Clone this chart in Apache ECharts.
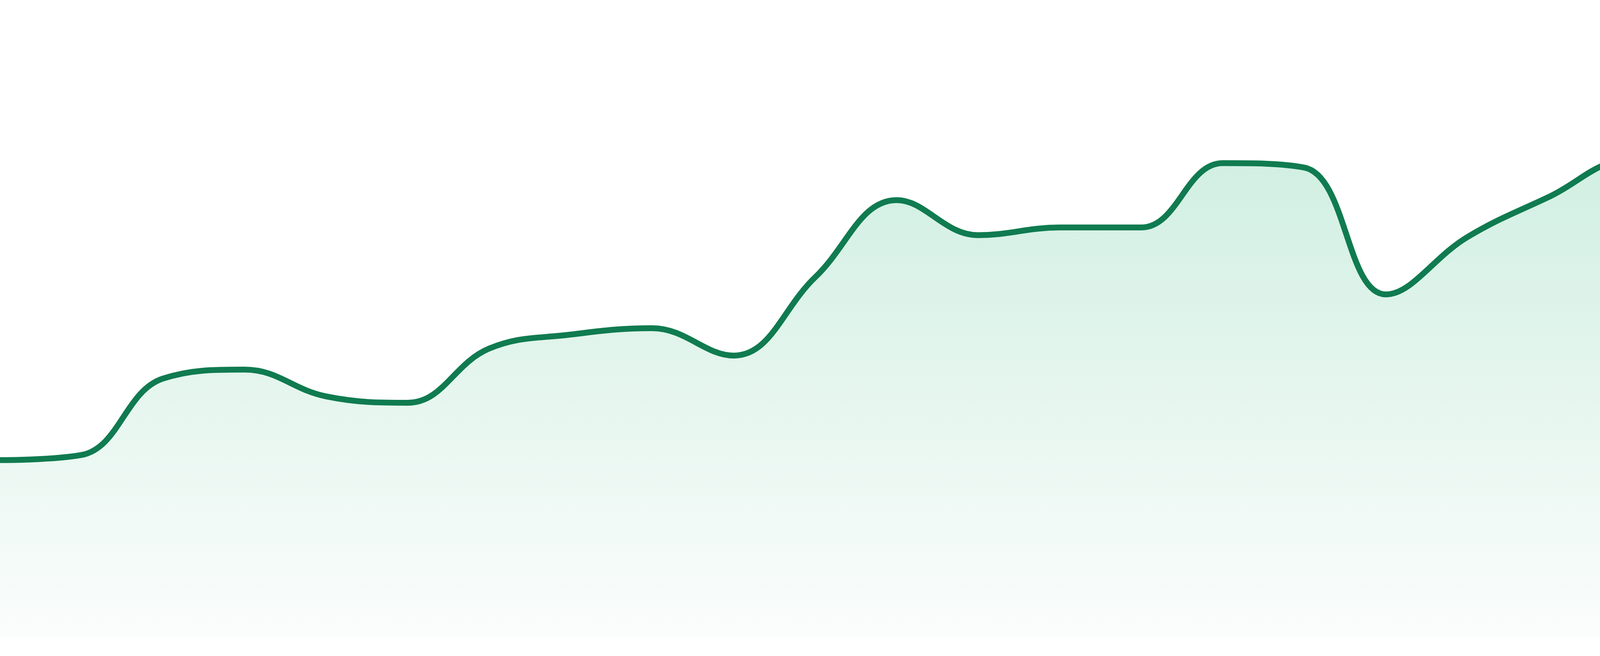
<!DOCTYPE html>
<html>
<head>
<meta charset="utf-8">
<style>
  html, body { margin: 0; padding: 0; background: #ffffff; }
  #chart { width: 4800px; height: 1680px; }
</style>
<script src="https://cdn.jsdelivr.net/npm/echarts@6/dist/echarts.min.js"></script>
</head>
<body>
<div id="chart"></div>
<script>
var categories = ['P1','P2','P3','P4','P5','P6','P7','P8','P9','P10','P11','P12',
                  'P13','P14','P15','P16','P17','P18','P19','P20','P21','P22','P23','P24'];
var values = [27.8, 28.6, 40.6, 42.0, 37.8, 36.8, 45.3, 47.5, 48.5, 44.2, 56.5, 68.6,
              63.1, 64.3, 64.3, 74.4, 73.7, 53.8, 62.8, 69.1, 74.9, 73.9, 80.5, 87.6];

var chart = echarts.init(document.getElementById('chart'));
chart.setOption({
  animation: false,
  backgroundColor: '#ffffff',
  grid: { left: 0, right: 0, top: 0, bottom: 48, containLabel: false },
  xAxis: {
    type: 'category',
    data: categories,
    boundaryGap: false,
    show: false
  },
  yAxis: {
    type: 'value',
    min: 0,
    max: 100,
    show: false,
    splitLine: { show: false }
  },
  series: [{
    type: 'line',
    data: values,
    smooth: 0.4,
    showSymbol: false,
    lineStyle: { color: '#107b50', width: 15 },
    itemStyle: { color: '#107b50' },
    areaStyle: {
      color: new echarts.graphic.LinearGradient(0, 0, 0, 1, [
        { offset: 0, color: '#b3e5cf' },
        { offset: 1, color: '#f9fcfb' }
      ])
    }
  }]
});
</script>
</body>
</html>
